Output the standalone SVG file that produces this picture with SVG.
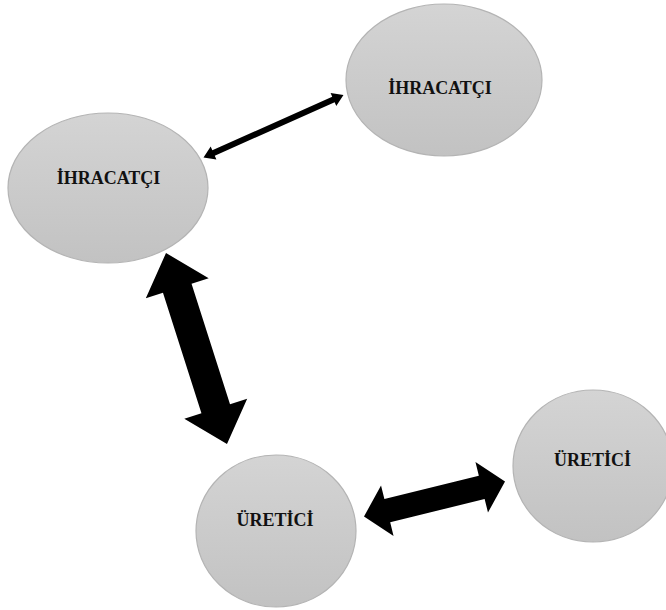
<svg xmlns="http://www.w3.org/2000/svg" width="666" height="610" viewBox="0 0 666 610">
<defs>
<linearGradient id="g" x1="0" y1="0" x2="0" y2="1">
<stop offset="0" stop-color="#d4d4d4"/>
<stop offset="1" stop-color="#c2c2c2"/>
</linearGradient>
<style>
.n{fill:url(#g);stroke:#b4b4b4;stroke-width:1.2}
.t{font-family:"Liberation Serif","Times New Roman",serif;font-weight:bold;font-size:18px;fill:#111;text-anchor:middle}
.a{fill:#000}
</style>
</defs>
<rect width="666" height="610" fill="#fff"/>
<g id="ihracatci-1">
<ellipse class="n" cx="444" cy="80" rx="98" ry="76"/>
<text class="t" x="440" y="94">İHRACATÇI</text>
</g>
<g id="ihracatci-2">
<ellipse class="n" cx="108" cy="188" rx="100" ry="75"/>
<text class="t" x="108.5" y="184">İHRACATÇI</text>
</g>
<g id="uretici-1">
<ellipse class="n" cx="276" cy="531" rx="80" ry="76"/>
<text class="t" x="275" y="526">ÜRETİCİ</text>
</g>
<g id="uretici-2">
<ellipse class="n" cx="593" cy="466" rx="80" ry="76"/>
<text class="t" x="592.5" y="466">ÜRETİCİ</text>
</g>
<g id="connectors">
<polygon class="a" transform="translate(203.5,157.5) rotate(-24.06)" points="0,0 11,-7 11,-3 142.3,-3 142.3,-7 153.3,0 142.3,7 142.3,3 11,3 11,7"/>
<polygon class="a" transform="translate(166,253) rotate(72.29)" points="0,0 37,-33 37,-15 163.5,-15 163.5,-33 200.5,0 163.5,33 163.5,15 37,15 37,33"/>
<polygon class="a" transform="translate(364,516.5) rotate(-13.94)" points="0,0 24,-26 24,-12 121.3,-12 121.3,-26 145.3,0 121.3,26 121.3,12 24,12 24,26"/>
</g>
</svg>
